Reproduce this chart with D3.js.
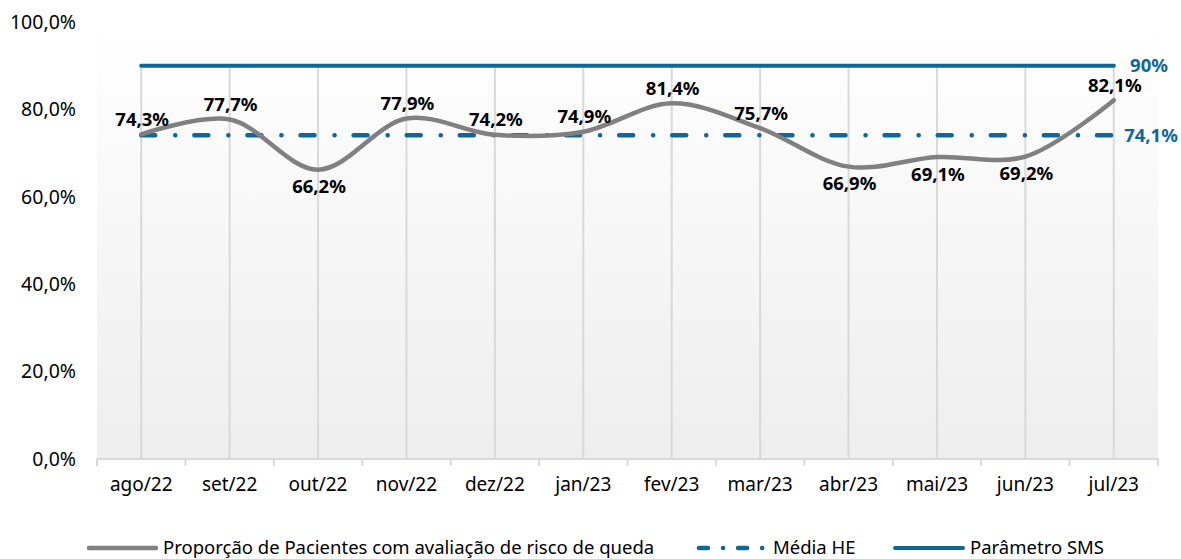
<!DOCTYPE html>
<html>
<head>
<meta charset="utf-8">
<script src="https://cdn.jsdelivr.net/npm/d3@7"></script>
<style>
  html, body { margin: 0; padding: 0; background: #ffffff; }
  svg { display: block; font-family: "Noto Sans", "Open Sans", sans-serif; }
</style>
</head>
<body>
<svg id="chart" width="1181" height="559"></svg>
<script>
// Monthly series
const months = ["ago/22", "set/22", "out/22", "nov/22", "dez/22", "jan/23",
                "fev/23", "mar/23", "abr/23", "mai/23", "jun/23", "jul/23"];
const proporcao = [74.3, 77.7, 66.2, 77.9, 74.2, 74.9, 81.4, 75.7, 66.9, 69.1, 69.2, 82.1];
const labelSide = ["above", "above", "below", "above", "above", "above",
                   "above", "above", "below", "below", "below", "above"];
const mediaHE = 74.1;
const parametroSMS = 90;
const yTicks = [0, 20, 40, 60, 80, 100];
const legendNames = ["Proporção de Pacientes com avaliação de risco de queda", "Média HE", "Parâmetro SMS"];

const svg = d3.select("#chart");
const margin = { left: 97, right: 1158, top: 22, bottom: 459 };

const x = d3.scaleBand().domain(months).range([margin.left, margin.right]);
const y = d3.scaleLinear().domain([0, 100]).range([margin.bottom, margin.top]);
const cx = d => x(d) + x.bandwidth() / 2;

const fmt = v => d3.format(".1f")(v).replace(".", ",");

const grey = "#808080";
const blue = "#0e6699";
const gridColor = "#d9d9d9";

// plot-area background gradient
const defs = svg.append("defs");
const grad = defs.append("linearGradient").attr("id", "plotBg")
  .attr("x1", 0).attr("y1", 0).attr("x2", 0).attr("y2", 1);
grad.append("stop").attr("offset", "0%").attr("stop-color", "#ffffff");
grad.append("stop").attr("offset", "100%").attr("stop-color", "#eeeeee");

svg.append("rect")
  .attr("x", margin.left).attr("y", margin.top)
  .attr("width", margin.right - margin.left)
  .attr("height", margin.bottom - margin.top)
  .attr("fill", "url(#plotBg)");

// vertical drop lines at each month
svg.append("g").selectAll("line").data(months).join("line")
  .attr("x1", d => cx(d)).attr("x2", d => cx(d))
  .attr("y1", y(parametroSMS)).attr("y2", y(0))
  .attr("stroke", gridColor).attr("stroke-width", 2);

// x axis with category-boundary ticks
const xAxisG = svg.append("g").attr("transform", `translate(0,${y(0)})`);
xAxisG.append("line")
  .attr("x1", margin.left).attr("x2", margin.right)
  .attr("y1", 0).attr("y2", 0)
  .attr("stroke", gridColor).attr("stroke-width", 2);
const bounds = months.map(m => x(m)).concat([margin.right]);
xAxisG.selectAll("line.tick").data(bounds).join("line")
  .attr("class", "tick")
  .attr("x1", d => d).attr("x2", d => d)
  .attr("y1", 0).attr("y2", 7)
  .attr("stroke", gridColor).attr("stroke-width", 2);
xAxisG.selectAll("text").data(months).join("text")
  .attr("x", d => cx(d)).attr("y", 32)
  .attr("text-anchor", "middle")
  .attr("font-size", 19).attr("fill", "#000")
  .text(d => d);

// y axis labels
const yAxis = d3.axisLeft(y).tickValues(yTicks).tickSize(0).tickPadding(0)
  .tickFormat(d => fmt(d) + "%");
const yAxisG = svg.append("g").attr("transform", "translate(76,0)").call(yAxis);
yAxisG.select(".domain").remove();
yAxisG.selectAll("text")
  .attr("font-size", 19.5).attr("fill", "#000")
  .attr("font-family", "\"Noto Sans\", \"Open Sans\", sans-serif");

// Parâmetro SMS line
svg.append("line")
  .attr("x1", cx(months[0])).attr("x2", cx(months[months.length - 1]))
  .attr("y1", y(parametroSMS)).attr("y2", y(parametroSMS))
  .attr("stroke", blue).attr("stroke-width", 4).attr("stroke-linecap", "round");

// Média HE dash-dot line
svg.append("line")
  .attr("x1", cx(months[0])).attr("x2", cx(months[months.length - 1]))
  .attr("y1", y(mediaHE)).attr("y2", y(mediaHE))
  .attr("stroke", blue).attr("stroke-width", 4.5)
  .attr("stroke-linecap", "round")
  .attr("stroke-dasharray", "14,20,0.1,19");

// Proporção series, smoothed
const line = d3.line()
  .x((d, i) => cx(months[i]))
  .y(d => y(d))
  .curve(d3.curveCatmullRom.alpha(0.5));
svg.append("path")
  .datum(proporcao)
  .attr("d", line)
  .attr("fill", "none")
  .attr("stroke", grey).attr("stroke-width", 4.5)
  .attr("stroke-linecap", "round");

// data labels
svg.append("g").selectAll("text").data(proporcao).join("text")
  .attr("x", (d, i) => cx(months[i]) + 1)
  .attr("y", (d, i) => y(d) + (labelSide[i] === "above" ? -15 : 17))
  .attr("dy", "0.35em")
  .attr("text-anchor", "middle")
  .attr("font-size", 18.5).attr("font-weight", "bold").attr("fill", "#000")
  .text(d => fmt(d) + "%");

// reference line labels at the right
svg.append("text")
  .attr("x", 1149).attr("y", y(parametroSMS)).attr("dy", "0.35em")
  .attr("text-anchor", "middle")
  .attr("font-size", 18.5).attr("font-weight", "bold").attr("fill", blue)
  .text(parametroSMS + "%");
svg.append("text")
  .attr("x", 1151).attr("y", y(mediaHE)).attr("dy", "0.35em")
  .attr("text-anchor", "middle")
  .attr("font-size", 18.5).attr("font-weight", "bold").attr("fill", blue)
  .text(fmt(mediaHE) + "%");

// legend
const legendY = 548;
const legendItems = [
  { name: legendNames[0], x0: 89, x1: 156, color: grey, w: 4.5, dash: null },
  { name: legendNames[1], x0: 699, x1: 766, color: blue, w: 4.5, dash: "9,15,0.1,15" },
  { name: legendNames[2], x0: 895, x1: 963, color: blue, w: 4, dash: null }
];
const lg = svg.append("g").selectAll("g").data(legendItems).join("g");
lg.append("line")
  .attr("x1", d => d.x0).attr("x2", d => d.x1)
  .attr("y1", legendY).attr("y2", legendY)
  .attr("stroke", d => d.color).attr("stroke-width", d => d.w)
  .attr("stroke-linecap", "round")
  .attr("stroke-dasharray", d => d.dash);
lg.append("text")
  .attr("x", d => d.x1 + 7).attr("y", legendY).attr("dy", "0.35em")
  .attr("font-size", 18.5).attr("fill", "#000")
  .text(d => d.name);
</script>
</body>
</html>
